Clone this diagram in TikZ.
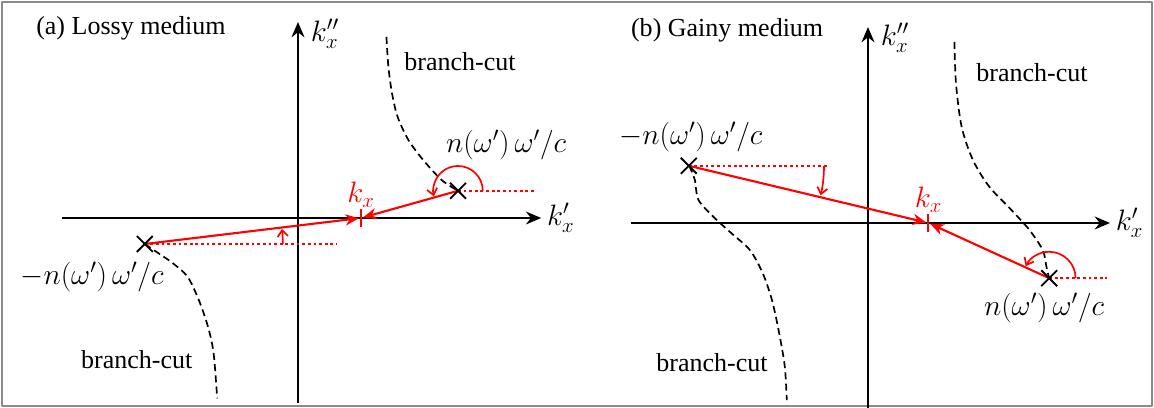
\documentclass[tikz,border=0pt]{standalone}
\usepackage{fix-cm}
\usepackage{amsmath}
\usepackage{fontspec}
\setmainfont{Liberation Serif}
\usetikzlibrary{arrows.meta,shapes.misc,calc}
\definecolor{ink}{HTML}{000000}
\definecolor{kcol}{HTML}{FF0000}
\definecolor{framecol}{HTML}{8A8A8A}

\begin{document}
\begin{tikzpicture}[
  font=\fontsize{18.5}{21}\selectfont, >=Stealth, line join=round,
  axis/.style={-{Stealth[length=3.8mm,width=3.2mm]}, ink, line width=1.8pt},
  pole/.style={cross out, draw=ink, line width=1.3pt, minimum size=10pt, inner sep=0pt},
  cut/.style={ink, line width=1.2pt, dash pattern=on 5pt off 3pt},
  ray/.style={-{Stealth[length=3.4mm,width=2.8mm]}, kcol, line width=1.5pt},
  refline/.style={kcol, line width=1.5pt, dash pattern=on 2pt off 2pt},
  ang/.style={-{Straight Barb[length=1.6mm,width=2.6mm]}, kcol, line width=1.2pt},
  tickmark/.style={kcol, line width=1.5pt},
  mth/.style={font=\fontsize{21}{24}\selectfont},
  ttl/.style={anchor=west, inner sep=0pt}]

\useasboundingbox (0,0) rectangle (28.85,10.2);
\draw[framecol, line width=0.8pt] (0.05,0.05) rectangle (28.8,10.15);

% ==================================================== (a) lossy
\begin{scope}[shift={(7.45,4.75)}]
  \node[ttl] (ta) at (-6.55,4.75) {(a) Lossy medium};
  \draw[axis] (-5.9,0) -- (6.08,0) node[mth, anchor=west] (kra) {$k_x'$};
  \draw[axis] (0,-4.63) -- (0,4.9);
  \node[mth, anchor=west] (kia) at (0.2,4.6) {$k_x''$};

  \coordinate (pa) at (4.0,0.68);
  \coordinate (ma) at (-3.83,-0.65);
  \coordinate (kxa) at (1.575,0);

  % branch cuts
  \draw[cut] plot[smooth] coordinates {(2.21,4.53) (2.26,3.78) (2.35,3.12)
    (2.49,2.53) (2.76,1.95) (3.13,1.45) (3.59,0.95) (4.0,0.68)};
  \draw[cut] plot[smooth] coordinates {(-3.83,-0.65) (-3.49,-0.88) (-3.13,-1.13)
    (-2.76,-1.47) (-2.48,-2.05) (-2.25,-2.72) (-2.11,-3.38) (-2.02,-4.51)};
  \node (bca) at (4.05,3.9) {branch-cut};
  \node (bcb) at (-4.03,-3.55) {branch-cut};

  % reference lines and angles
  \draw[refline] (pa) -- ++(1.9,0);
  \draw[refline] (ma) -- ++(4.8,0);
  \draw[ang] ([shift={(0:0.62)}]pa) arc[start angle=0, end angle=193, radius=0.62];
  \draw[ang] ([shift={(0:3.45)}]ma) arc[start angle=0, end angle=6.3, radius=3.45];

  % k_x
  \draw[tickmark] ($(kxa)+(0,-0.22)$) -- ($(kxa)+(0,0.22)$);
  \node[mth, kcol, anchor=south] (kla) at ($(kxa)+(0,0.15)$) {$k_x$};
  \draw[ray, shorten >=1.5pt] (ma) -- (kxa);
  \draw[ray, shorten >=1.5pt] (pa) -- (kxa);

  \node[pole] (paX) at (pa) {};
  \node[pole] (maX) at (ma) {};
  \node[mth] (npa) at (5.2,1.83) {$n(\omega')\,\omega'/c$};
  \node[mth] (nma) at (-5.15,-1.48) {$-n(\omega')\,\omega'/c$};
\end{scope}

% ==================================================== (b) gainy
\begin{scope}[shift={(21.7,4.625)}]
  \node[ttl] (tb) at (-5.93,4.83) {(b) Gainy medium};
  \draw[axis] (-5.93,0) -- (6.05,0) node[mth, anchor=west] (krb) {$k_x'$};
  \draw[axis] (0,-4.63) -- (0,4.9);
  \node[mth, anchor=west] (kib) at (0.2,4.63) {$k_x''$};

  \coordinate (pb) at (4.53,-1.38);
  \coordinate (mb) at (-4.48,1.43);
  \coordinate (kxb) at (1.51,0);

  % branch cuts
  \draw[cut] plot[smooth] coordinates {(2.16,4.53) (2.2,3.49) (2.34,2.41)
    (2.62,1.58) (3.03,0.91) (3.58,0.33) (4.04,-0.18) (4.37,-0.68)
    (4.46,-1.09) (4.53,-1.38)};
  \draw[cut] plot[smooth] coordinates {(-4.47,1.43) (-4.33,1.08) (-4.24,0.58)
    (-3.87,0.16) (-3.41,-0.26) (-2.95,-0.68) (-2.63,-1.26) (-2.40,-1.93)
    (-2.22,-2.76) (-2.08,-3.59) (-2.03,-4.43)};
  \node (bcc) at (4.1,3.75) {branch-cut};
  \node (bcd) at (-3.9,-3.48) {branch-cut};

  % reference lines and angles
  \draw[refline] (pb) -- ++(1.45,0);
  \draw[refline] (mb) -- ++(3.45,0);
  \draw[ang] ([shift={(0:0.66)}]pb) arc[start angle=0, end angle=153, radius=0.66];
  \draw[ang] ([shift={(0:3.38)}]mb) arc[start angle=0, end angle=-12.6, radius=3.38];

  % k_x
  \draw[tickmark] ($(kxb)+(0,-0.22)$) -- ($(kxb)+(0,0.22)$);
  \node[mth, kcol, anchor=south] (klb) at ($(kxb)+(0,0.15)$) {$k_x$};
  \draw[ray, shorten >=1.5pt] (mb) -- (kxb);
  \draw[ray, shorten >=1.5pt] (pb) -- (kxb);

  \node[pole] (pbX) at (pb) {};
  \node[pole] (mbX) at (mb) {};
  \node[mth] (npb) at (4.4,-2.13) {$n(\omega')\,\omega'/c$};
  \node[mth] (nmb) at (-4.43,2.15) {$-n(\omega')\,\omega'/c$};
\end{scope}

\end{tikzpicture}
\end{document}
